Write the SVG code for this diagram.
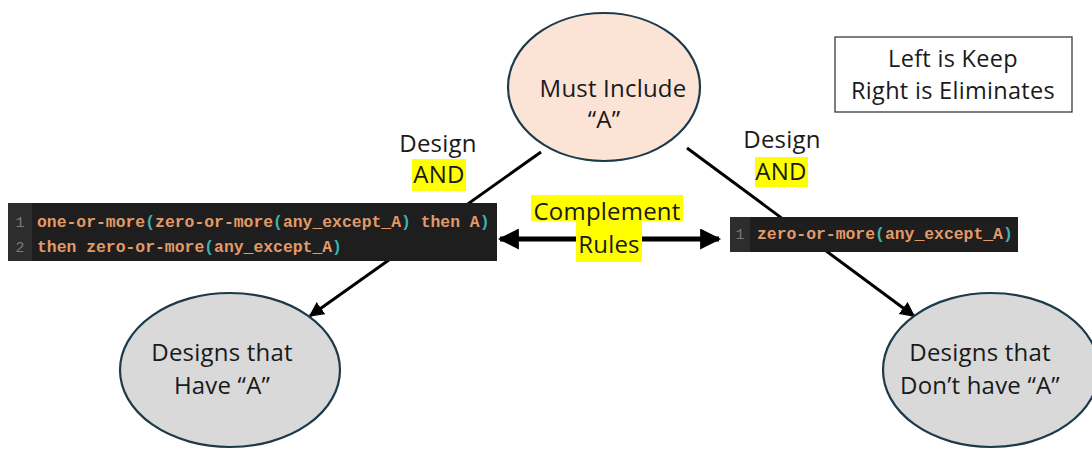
<svg xmlns="http://www.w3.org/2000/svg" width="1092" height="450" viewBox="0 0 1092 450">
  <style>
    .lbl { font-family: "Open Sans", "Liberation Sans", sans-serif; font-size: 24px; letter-spacing: 0.2px; fill: #1a1a1a; text-anchor: middle; }
    .legend-txt { font-size: 23.5px; letter-spacing: 0.3px; }
    .node { stroke: #1d3a4a; stroke-width: 2.2; }
    .code { font-family: "Liberation Mono", "DejaVu Sans Mono", monospace; font-size: 16.4px; font-weight: bold; fill: #e39a68; }
    .paren { fill: #3bb3b0; }
    .ln { font-family: "Liberation Mono", monospace; font-size: 15px; fill: #7a7a7a; text-anchor: middle; }
    .hl { fill: #ffff00; }
    .wire { stroke: #000; stroke-width: 3; fill: none; }
  </style>
  <defs>
    <marker id="arrow" viewBox="0 0 10 10" refX="9" refY="5" markerWidth="5" markerHeight="5" orient="auto" markerUnits="strokeWidth">
      <path d="M0,0 L10,5 L0,10 z" fill="#000"/>
    </marker>
    <marker id="bigArrow" viewBox="0 0 10 10" refX="9" refY="5" markerWidth="4.6" markerHeight="4.2" orient="auto-start-reverse" markerUnits="strokeWidth">
      <path d="M0,0 L10,5 L0,10 z" fill="#000"/>
    </marker>
  </defs>
  <rect width="1092" height="450" fill="#ffffff"/>

  <!-- connectors (drawn first so the code panels sit on top) -->
  <g id="connectors">
    <line class="wire" x1="541" y1="152" x2="310" y2="316" marker-end="url(#arrow)"/>
    <line class="wire" x1="687" y1="148" x2="914" y2="316" marker-end="url(#arrow)"/>
    <line x1="500" y1="239" x2="719" y2="239" stroke="#000" stroke-width="5" marker-start="url(#bigArrow)" marker-end="url(#bigArrow)"/>
  </g>

  <!-- top node -->
  <g id="must-include">
    <ellipse class="node" cx="604" cy="87" rx="96" ry="74" fill="#fbe3d6"/>
    <text class="lbl" x="613" y="97">Must Include</text>
    <text class="lbl" x="604" y="128">“A”</text>
  </g>

  <!-- bottom left node -->
  <g id="have-a">
    <ellipse class="node" cx="230" cy="370" rx="110" ry="77" fill="#d9d9d9"/>
    <text class="lbl" x="222" y="361">Designs that</text>
    <text class="lbl" x="222" y="394">Have “A”</text>
  </g>

  <!-- bottom right node -->
  <g id="dont-have-a">
    <ellipse class="node" cx="991" cy="370" rx="108" ry="77" fill="#d9d9d9"/>
    <text class="lbl" x="980" y="361">Designs that</text>
    <text class="lbl" x="980" y="394">Don’t have “A”</text>
  </g>

  <!-- legend -->
  <g id="legend">
    <rect x="835" y="37" width="237" height="75" fill="#fff" stroke="#3a3a3a" stroke-width="1.3"/>
    <text class="lbl legend-txt" x="953" y="67">Left is Keep</text>
    <text class="lbl legend-txt" x="953" y="99">Right is Eliminates</text>
  </g>

  <!-- left code panel -->
  <g id="keep-rule">
    <rect x="8" y="203" width="489" height="58" fill="#1e1e1e"/>
    <rect x="8" y="203" width="24" height="58" fill="#2d2d2d"/>
    <text class="ln" x="20" y="227">1</text>
    <text class="ln" x="20" y="252">2</text>
    <text class="code" x="37" y="227">one-or-more<tspan class="paren">(</tspan>zero-or-more<tspan class="paren">(</tspan>any_except_A<tspan class="paren">)</tspan> then A<tspan class="paren">)</tspan></text>
    <text class="code" x="37" y="252">then zero-or-more<tspan class="paren">(</tspan>any_except_A<tspan class="paren">)</tspan></text>
  </g>

  <!-- right code panel -->
  <g id="eliminate-rule">
    <rect x="730" y="217" width="288" height="35" fill="#1e1e1e"/>
    <rect x="730" y="217" width="20" height="35" fill="#2d2d2d"/>
    <text class="ln" x="740" y="239">1</text>
    <text class="code" x="757" y="239">zero-or-more<tspan class="paren">(</tspan>any_except_A<tspan class="paren">)</tspan></text>
  </g>

  <!-- edge labels -->
  <g id="label-left">
    <text class="lbl" x="438" y="152">Design</text>
    <rect class="hl" x="412" y="159" width="54" height="32"/>
    <text class="lbl" x="439" y="183">AND</text>
  </g>
  <g id="label-right">
    <text class="lbl" x="782" y="148">Design</text>
    <rect class="hl" x="755" y="157" width="53" height="30"/>
    <text class="lbl" x="781" y="180">AND</text>
  </g>
  <g id="label-complement">
    <rect class="hl" x="531" y="195" width="152" height="26"/>
    <rect class="hl" x="576" y="221" width="66" height="41"/>
    <text class="lbl" x="607" y="220">Complement</text>
    <text class="lbl" x="609" y="253">Rules</text>
  </g>
</svg>
